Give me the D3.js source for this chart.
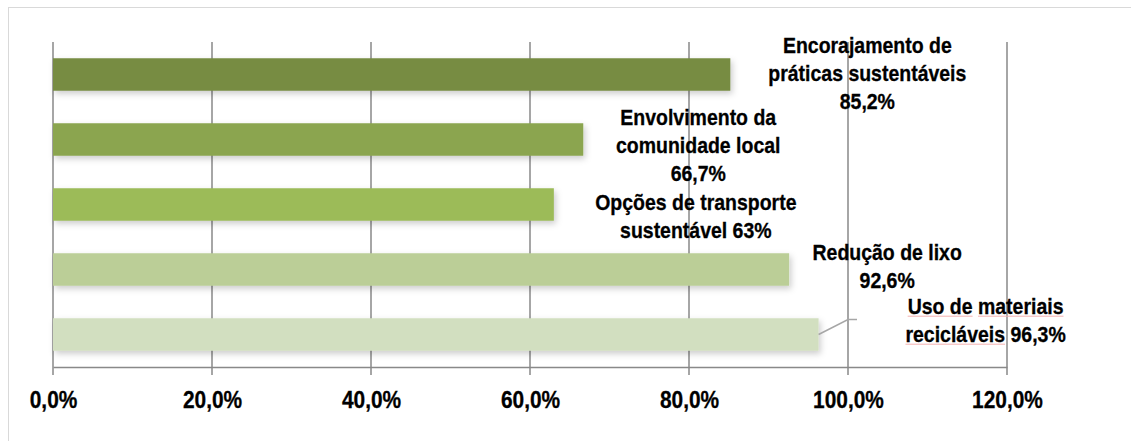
<!DOCTYPE html>
<html>
<head>
<meta charset="utf-8">
<script src="https://cdn.jsdelivr.net/npm/d3@7"></script>
<style>
  body { margin: 0; background: #fff; }
  text { font-family: "Liberation Sans", Arial, sans-serif; font-weight: bold; fill: #000; stroke: #000; stroke-width: 0.3px; }
</style>
</head>
<body>
<div id="box-div"></div>
<script>
// dados
const categories = [
    'Encorajamento de práticas sustentáveis',
    'Envolvimento da comunidade local',
    'Opções de transporte sustentável',
    'Redução de lixo',
    'Uso de materiais recicláveis'
];
const values = [0.852, 0.667, 0.63, 0.926, 0.963];
const labelLines = [
    ['Encorajamento de', 'práticas sustentáveis', '85,2%'],
    ['Envolvimento da', 'comunidade local', '66,7%'],
    ['Opções de transporte', 'sustentável 63%'],
    ['Redução de lixo', '92,6%'],
    ['Uso de materiais', 'recicláveis 96,3%']
];
const tickValues = [0, 0.2, 0.4, 0.6, 0.8, 1.0, 1.2];
const tickLabels = ['0,0%', '20,0%', '40,0%', '60,0%', '80,0%', '100,0%', '120,0%'];

// layout das etiquetas (deslocamento em px a partir do fim da barra)
const labelNudge = [[137, -29], [115, -22], [142, -2], [98, -17], [167, -28]];
const barColors = ['#778c43', '#8ba550', '#9cbb59', '#bbce97', '#d2dfc0'];

let dms = {
    width: 1131,
    height: 441,
    margin: { top: 42, right: 124, bottom: 74, left: 53 }
}
dms.chartWidth = 1007 - dms.margin.left;
dms.chartHeight = 367 - dms.margin.top;

// fonte estreita simulada
function narrow (sel, k) {
    sel.each(function () {
        const len = this.getComputedTextLength()
        d3.select(this)
            .attr('textLength', len * k)
            .attr('lengthAdjust', 'spacingAndGlyphs')
    })
}

const box = d3.select('#box-div').append('svg')
    .attr('width', dms.width)
    .attr('height', dms.height)

const defs = box.append('defs')
const shadow = defs.append('filter')
    .attr('id', 'shadow')
    .attr('x', '-5%').attr('y', '-30%')
    .attr('width', '115%').attr('height', '170%')
shadow.append('feDropShadow')
    .attr('dx', 2).attr('dy', 3)
    .attr('stdDeviation', 3)
    .attr('flood-color', '#000')
    .attr('flood-opacity', 0.2)

// borda externa
box.append('rect')
    .attr('x', 8.5).attr('y', 7.5)
    .attr('width', 1200).attr('height', 500)
    .attr('fill', 'none')
    .attr('stroke', '#d9d9d9')
    .attr('stroke-width', 1)

const content = box.append('g')
    .attr('transform', `translate(${dms.margin.left}, ${dms.margin.top})`)

const xScale = d3.scaleLinear()
    .domain([0, 1.2])
    .range([0, dms.chartWidth])

const yScale = d3.scaleBand()
    .domain(categories)
    .range([0, dms.chartHeight])
    .paddingInner(0.5)
    .paddingOuter(0.25)

// linhas de grade
content.append('g')
    .selectAll('line')
    .data(tickValues)
    .join('line')
    .attr('x1', d => xScale(d))
    .attr('x2', d => xScale(d))
    .attr('y1', 0)
    .attr('y2', dms.chartHeight + 8)
    .attr('stroke', '#898989')
    .attr('stroke-width', 1.5)

// eixo x
const xAxis = content.append('g')
    .attr('transform', `translate(0, ${dms.chartHeight})`)
    .call(d3.axisBottom(xScale)
        .tickValues(tickValues)
        .tickFormat((d, i) => tickLabels[i])
        .tickSize(0))
xAxis.select('.domain')
    .attr('stroke', '#898989')
    .attr('stroke-width', 1.5)
xAxis.attr('font-family', null).attr('font-size', null)
xAxis.selectAll('text')
    .attr('y', 33)
    .attr('dy', '0.35em')
    .attr('font-size', 24)
    .call(narrow, 0.87)

// barras
content.append('g')
    .selectAll('rect')
    .data(values)
    .join('rect')
    .attr('x', 0)
    .attr('y', (d, i) => yScale(categories[i]))
    .attr('width', d => xScale(d))
    .attr('height', yScale.bandwidth())
    .attr('fill', (d, i) => barColors[i])
    .attr('filter', 'url(#shadow)')

// linha de chamada da última etiqueta
const last = values.length - 1
const lastY = yScale(categories[last]) + yScale.bandwidth() / 2
content.append('polyline')
    .attr('points', [
        [xScale(values[last]), lastY],
        [xScale(1.0), lastY - 15],
        [xScale(1.0) + 9, lastY - 15]
    ].map(p => p.join(',')).join(' '))
    .attr('fill', 'none')
    .attr('stroke', '#a6a6a6')
    .attr('stroke-width', 1.5)

// etiquetas
const labels = content.append('g')
const lineNodes = []
values.forEach((v, i) => {
    const cx = xScale(v) + labelNudge[i][0]
    const cy = yScale(categories[i]) + yScale.bandwidth() / 2 + labelNudge[i][1]
    lineNodes[i] = labelLines[i].map((line, j) => labels.append('text')
        .attr('text-anchor', 'middle')
        .attr('font-size', 22)
        .attr('x', cx)
        .attr('y', cy + j * 28)
        .attr('dy', '0.35em')
        .text(line)
        .call(narrow, 0.885)
        .node())
})

// sublinhado do corretor ortográfico
const spell = [['Uso de', 0], ['materiais', 0], ['recicláveis', 1]]
spell.forEach(([word, line]) => {
    const node = lineNodes[last][line]
    const str = node.textContent
    const start = str.indexOf(word)
    const a = node.getExtentOfChar(start)
    const b = node.getExtentOfChar(start + word.length - 1)
    const y = a.y + a.height - 3
    labels.append('line')
        .attr('x1', a.x).attr('x2', b.x + b.width)
        .attr('y1', y).attr('y2', y)
        .attr('stroke', '#f3b0b0')
        .attr('stroke-width', 1)
})
</script>
</body>
</html>
